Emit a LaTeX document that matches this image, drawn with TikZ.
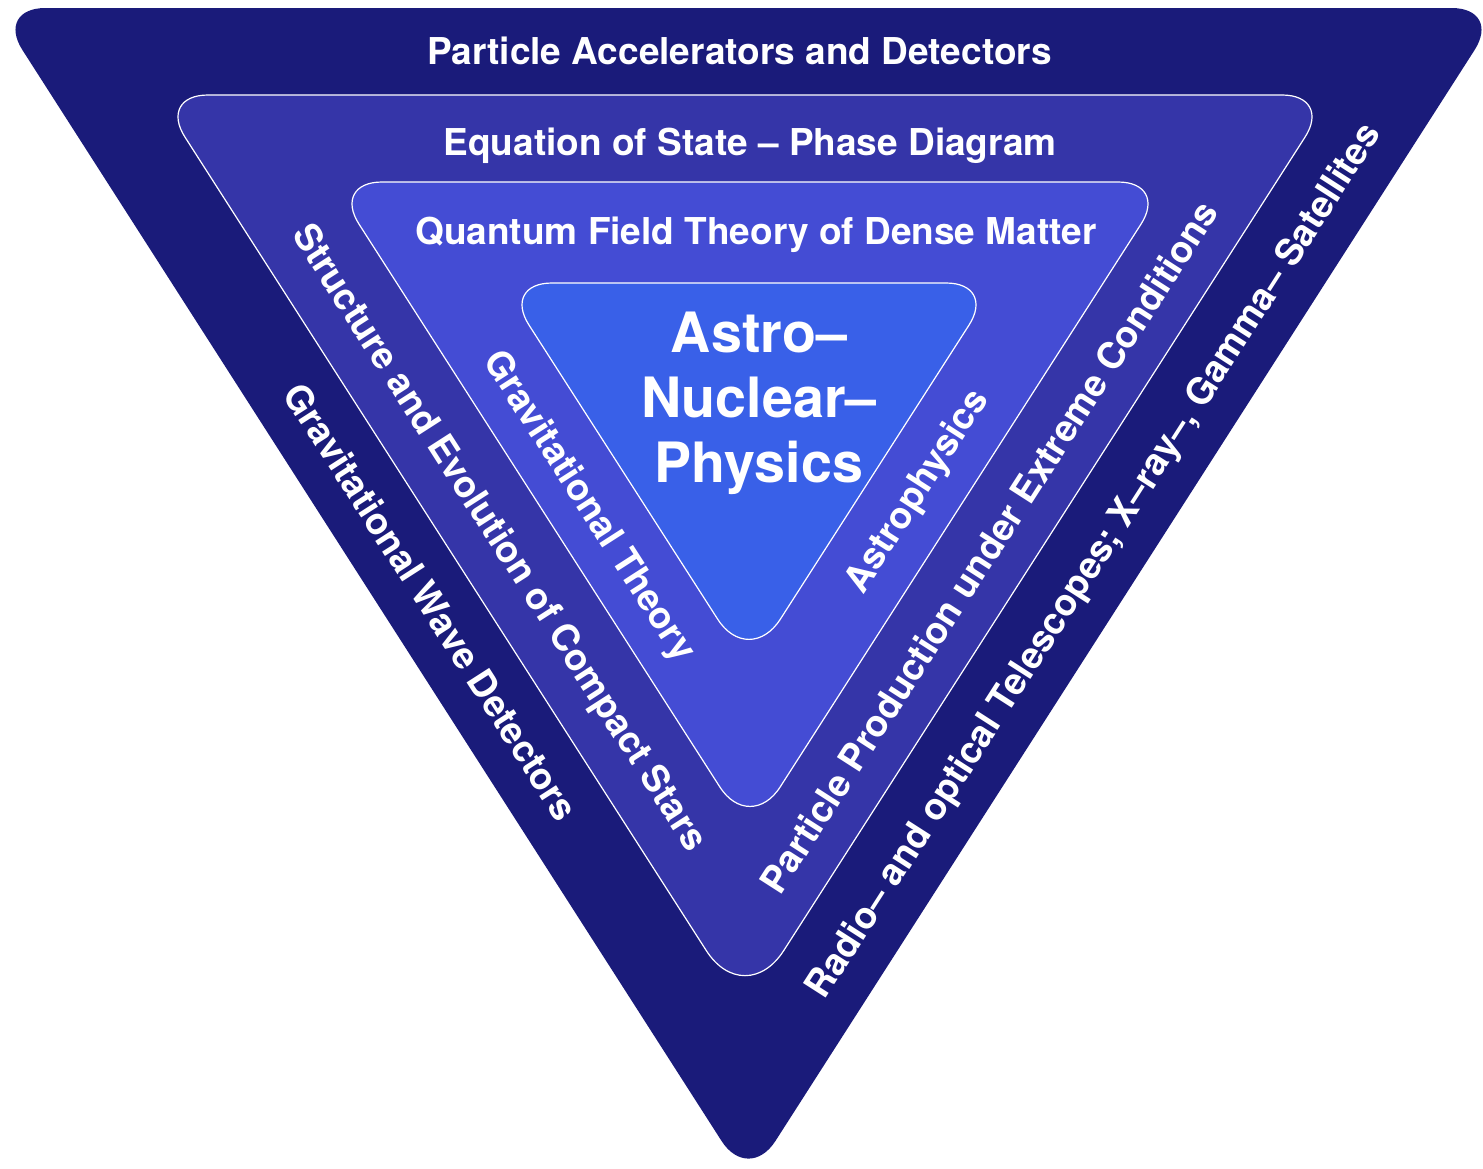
\documentclass[tikz,border=0pt]{standalone}
\usepackage{fontspec}
\usetikzlibrary{calc}
\setmainfont{TeX Gyre Heros}
\definecolor{bandA}{RGB}{26,27,122}
\definecolor{bandB}{RGB}{53,53,168}
\definecolor{bandC}{RGB}{68,76,212}
\definecolor{bandD}{RGB}{57,96,232}
% #1 style, #2 #3 #4 corner names (top-left, top-right, bottom), #5 top cut, #6 top control, #7 bottom cut, #8 bottom control
\newcommand{\roundtri}[8]{%
  \path[#1] ($(#2)!#5!(#3)$) -- ($(#3)!#5!(#2)$)
    .. controls ($(#3)!#6!(#2)$) and ($(#3)!#6!(#4)$) .. ($(#3)!#5!(#4)$)
    -- ($(#4)!#7!(#3)$)
    .. controls ($(#4)!#8!(#3)$) and ($(#4)!#8!(#2)$) .. ($(#4)!#7!(#2)$)
    -- ($(#2)!#5!(#4)$)
    .. controls ($(#2)!#6!(#4)$) and ($(#2)!#6!(#3)$) .. ($(#2)!#5!(#3)$) -- cycle;}
\begin{document}
\begin{tikzpicture}[x=0.5pt,y=-0.5pt,
  edged/.style={draw=white,line width=0.6pt},
  lbl/.style={text=white,font=\fontsize{18.5}{22}\selectfont\bfseries,inner sep=0pt,text height=13.3pt,text depth=0pt},
  big/.style={text=white,font=\fontsize{27.8}{32.3}\selectfont\bfseries,inner sep=0pt,align=center},
  lside/.style={lbl,rotate=-57.3},
  rside/.style={lbl,rotate=57.3}]
\useasboundingbox (0,0) rectangle (1483,1168);
% corner points of the four triangles
\coordinate (a1) at (-4.5,8);  \coordinate (b1) at (1501.5,8); \coordinate (c1) at (748.5,1183);
\coordinate (a2) at (158,95);  \coordinate (b2) at (1332,95);  \coordinate (c2) at (745,1011);
\coordinate (a3) at (332,182); \coordinate (b3) at (1168,182); \coordinate (c3) at (750,834);
\coordinate (a4) at (502,283); \coordinate (b4) at (996,283);  \coordinate (c4) at (749,668);
% triangles
\roundtri{fill=bandA}{a1}{b1}{c1}{25pt}{11pt}{25pt}{11pt}
\roundtri{fill=bandB,edged}{a2}{b2}{c2}{25pt}{11pt}{36pt}{16pt}
\roundtri{fill=bandC,edged}{a3}{b3}{c3}{25pt}{11pt}{28pt}{12.5pt}
\roundtri{fill=bandD,edged}{a4}{b4}{c4}{25pt}{11pt}{29pt}{13pt}
% top labels
\node[lbl] (acc) at (739.5,51) {Particle Accelerators and Detectors};
\node[lbl] (eos) at (750,142) {Equation of State – Phase Diagram};
\node[lbl] (qft) at (756,231) {Quantum Field Theory of Dense Matter};
% centre
\node[big,anchor=base] (anp) at (759,482) {Astro–\\Nuclear–\\Physics};
% left side
\node[lside] (gwd) at (431,602) {Gravitational Wave Detectors};
\node[lside] (sec) at (501,537) {Structure and Evolution of Compact Stars};
\node[lside] (grt) at (591,505) {Gravitational Theory};
% right side
\node[rside] (ast) at (915,490) {Astrophysics};
\node[rside] (ppx) at (989,547) {Particle Production under Extreme Conditions};
\node[rside] (tel) at (1092,560) {Radio– and optical Telescopes; X–ray–, Gamma– Satellites};
\end{tikzpicture}
\end{document}
